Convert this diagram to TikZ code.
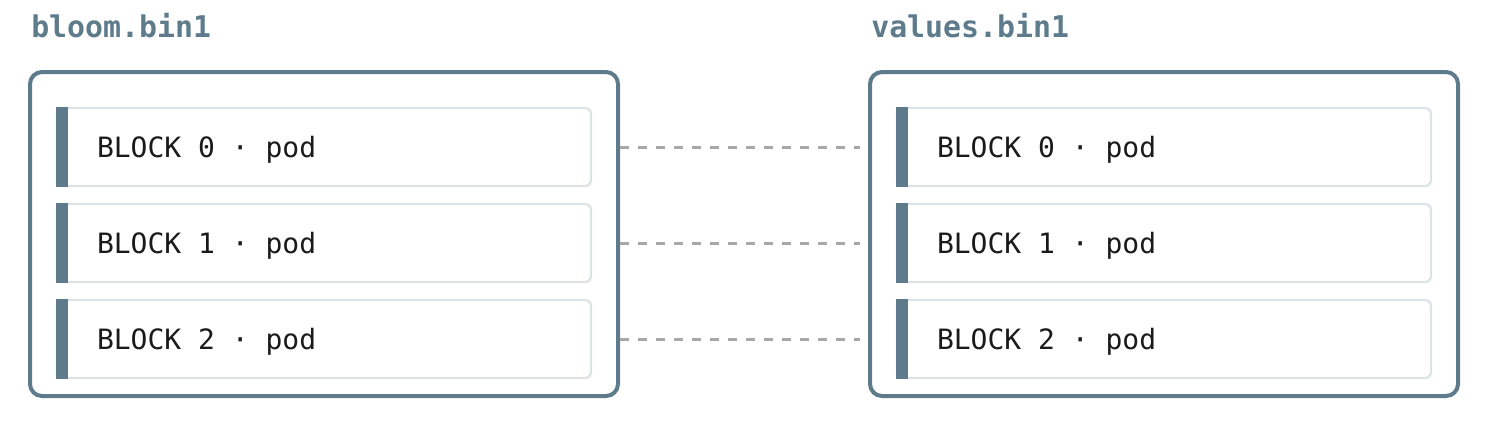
\documentclass[tikz,border=0pt]{standalone}
\usepackage{fontspec}
\setmonofont{DejaVu Sans Mono}
\usepackage{xcolor}
\usepackage{tikz}
\usetikzlibrary{positioning,calc}
\definecolor{slate}{HTML}{5E7B8C}
\definecolor{mist}{HTML}{DEE4E6}
\definecolor{link}{HTML}{A8A8A8}
\definecolor{ink}{HTML}{1A1A1A}
\tikzset{
  file/.style ={draw=slate, line width=3pt, rounded corners=9pt, minimum width=441pt, minimum height=243pt, inner sep=0pt},
  blk/.style  ={draw=mist, line width=1.8pt, rounded corners=4.5pt, minimum height=58.5pt, text width=340.5pt, inner xsep=30pt, inner ysep=0pt, text depth=0pt, align=left, text=ink, font=\ttfamily\fontsize{21pt}{24pt}\selectfont, execute at begin node={\spaceskip=0pt\xspaceskip=0pt}},
  bar/.style  ={fill=slate},
  title/.style={anchor=base west, inner sep=0pt, text=slate, font=\ttfamily\bfseries\fontsize{22.4pt}{26pt}\selectfont},
  pair/.style ={draw=link, line width=2.25pt, dash pattern=on 6.75pt off 6.75pt, shorten >=6pt},
}
\begin{document}
\begin{tikzpicture}[x=0.75pt,y=-0.75pt]
        \useasboundingbox (0,0) rectangle (1488,426);
        \node[title] (tl) at (31,37.5)  {bloom.bin1};
        \node[title] (tr) at (871,37.5) {values.bin1};
        \node[file] (L) at (324,234)  {};
        \node[file] (R) at (1164,234) {};
        \node[blk] (L0) at (324,147)  {BLOCK 0 · pod};
        \node[blk] (L1) at (324,243)  {BLOCK 1 · pod};
        \node[blk] (L2) at (324,339)  {BLOCK 2 · pod};
        \node[blk] (R0) at (1164,147) {BLOCK 0 · pod};
        \node[blk] (R1) at (1164,243) {BLOCK 1 · pod};
        \node[blk] (R2) at (1164,339) {BLOCK 2 · pod};
        \fill[bar] (L0.north west) rectangle ([xshift=9pt]L0.south west);
        \fill[bar] (L1.north west) rectangle ([xshift=9pt]L1.south west);
        \fill[bar] (L2.north west) rectangle ([xshift=9pt]L2.south west);
        \fill[bar] (R0.north west) rectangle ([xshift=9pt]R0.south west);
        \fill[bar] (R1.north west) rectangle ([xshift=9pt]R1.south west);
        \fill[bar] (R2.north west) rectangle ([xshift=9pt]R2.south west);
        \draw[pair] (L0 -| L.east) -- (R0 -| R.west);
        \draw[pair] (L1 -| L.east) -- (R1 -| R.west);
        \draw[pair] (L2 -| L.east) -- (R2 -| R.west);
      \end{tikzpicture}
\end{document}
